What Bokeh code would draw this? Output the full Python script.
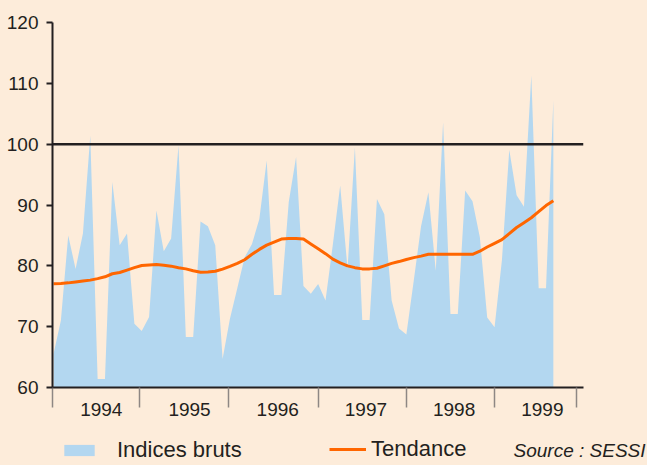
from bokeh.plotting import figure
from bokeh.layouts import column
from bokeh.models import (FixedTicker, Span, Legend, LegendItem, Label, Range1d,
                          ColumnDataSource)
from bokeh.embed import file_html
from bokeh.resources import INLINE
import numpy as np

# ---- data ----
annees = ["1994", "1995", "1996", "1997", "1998", "1999"]

indices_bruts = [
    65.5, 71.0, 85.0, 79.5, 85.3, 101.4, 61.4, 61.4, 93.8, 83.4, 85.3, 70.5,   # 1994
    69.3, 71.6, 89.1, 82.4, 84.5, 99.8, 68.3, 68.3, 87.3, 86.5, 83.4, 64.7,    # 1995
    71.3, 76.3, 81.4, 83.6, 87.7, 97.3, 75.2, 75.2, 90.5, 97.9, 76.7, 75.4,    # 1996
    77.0, 74.3, 83.5, 93.2, 79.5, 99.5, 71.1, 71.1, 91.0, 88.5, 74.3, 69.7,    # 1997
    68.7, 77.5, 86.5, 92.1, 79.2, 103.6, 72.1, 72.1, 92.4, 90.6, 84.7, 71.5,   # 1998
    69.9, 80.9, 99.1, 91.6, 89.7, 111.3, 76.3, 76.3, 107.2,                    # 1999
]

tendance = [
    77.06, 77.1, 77.2, 77.35, 77.5, 77.65, 77.9, 78.2, 78.7, 78.9, 79.3, 79.7,
    80.05, 80.15, 80.2, 80.1, 79.95, 79.7, 79.5, 79.2, 78.96, 79.0, 79.1, 79.45,
    79.9, 80.4, 81.0, 81.9, 82.7, 83.4, 83.9, 84.4, 84.5, 84.5, 84.4, 83.6,
    82.8, 82.0, 81.1, 80.5, 80.0, 79.7, 79.5, 79.5, 79.6, 80.0, 80.4, 80.7,
    81.05, 81.35, 81.6, 81.9, 81.9, 81.9, 81.9, 81.9, 81.9, 81.9, 82.4, 83.1,
    83.7, 84.3, 85.3, 86.3, 87.1, 87.9, 88.9, 89.9, 90.7,
]

y_ticks = [60, 70, 80, 90, 100, 110, 120]
niveau_reference = 100
source = "Source : SESSI"

# ---- style ----
BG = "#FDECDA"
INK = "#231F20"
BLUE = "#B3D7F0"
ORANGE = "#FF6600"
FONT = "Liberation Sans"

mois = np.arange(len(indices_bruts))
src = ColumnDataSource(dict(mois=mois, brut=indices_bruts, tend=tendance))
label_pos = [6.5 + 12 * k for k in range(len(annees))]
year_bounds = [-0.1, 11.75, 23.85, 36.0, 48.0, 60.0, 71.2]

W = 647
p = figure(width=W, height=422, output_backend="svg", toolbar_location=None,
           x_range=Range1d(-0.14, 72.1), y_range=Range1d(60, 120),
           min_border_left=52, min_border_right=64, min_border_top=22,
           min_border_bottom=35,
           background_fill_color=BG, border_fill_color=BG)
p.frame_align = False
p.outline_line_color = None
p.grid.visible = False

area = p.varea(x="mois", y1=60, y2="brut", source=src, fill_color=BLUE)
trend = p.line("mois", "tend", source=src, line_color=ORANGE, line_width=3)
p.add_layout(Span(location=niveau_reference, dimension="width",
                  line_color=INK, line_width=2.5))

xa = p.xaxis[0]
xa.ticker = FixedTicker(ticks=label_pos, minor_ticks=year_bounds)
xa.major_label_overrides = {pos: lab for pos, lab in zip(label_pos, annees)}
xa.major_tick_line_color = None
xa.major_tick_out = 0
xa.major_tick_in = 0
xa.minor_tick_out = 20
xa.minor_tick_in = 0
xa.minor_tick_line_color = "#8E8784"
xa.minor_tick_line_width = 1.5
xa.axis_line_color = INK
xa.axis_line_width = 2
xa.major_label_text_font = FONT
xa.major_label_text_font_size = "19px"
xa.major_label_text_color = INK
xa.major_label_standoff = -5

ya = p.yaxis[0]
ya.ticker = FixedTicker(ticks=y_ticks, minor_ticks=[])
ya.major_tick_out = 6
ya.major_tick_in = 0
ya.major_tick_line_color = INK
ya.major_tick_line_width = 2
ya.minor_tick_line_color = None
ya.axis_line_color = INK
ya.axis_line_width = 2
ya.major_label_text_font = FONT
ya.major_label_text_font_size = "19px"
ya.major_label_text_color = INK
ya.major_label_standoff = 8

# ---- legend row (its own ranges keep the series out of view) ----
q = figure(width=W, height=43, output_backend="svg", toolbar_location=None,
           x_range=Range1d(0, 1), y_range=Range1d(0, 1),
           x_axis_location=None, y_axis_location=None,
           min_border_left=0, min_border_right=0, min_border_top=0,
           min_border_bottom=0,
           background_fill_color=BG, border_fill_color=BG)
q.frame_align = False
q.outline_line_color = None
q.grid.visible = False
leg_area = q.varea(x="mois", y1=60, y2="brut", source=src, fill_color=BLUE)
leg_line = q.line("mois", "tend", source=src, line_color=ORANGE, line_width=3)

common = dict(orientation="horizontal", padding=0, margin=0, spacing=0,
              border_line_color=None, background_fill_alpha=0,
              label_text_font=FONT, label_text_font_size="22px",
              label_text_color=INK)
q.add_layout(Legend(items=[LegendItem(label="Indices bruts", renderers=[leg_area])],
                    location=(60, 2), glyph_width=38, glyph_height=14,
                    label_standoff=19, **common))
q.add_layout(Legend(items=[LegendItem(label="Tendance", renderers=[leg_line])],
                    location=(329, 3), glyph_width=37, glyph_height=14,
                    label_standoff=5, **common))
q.add_layout(Label(x=645, y=15.5, x_units="screen", y_units="screen",
                   text=source, text_align="right",
                   text_baseline="middle", text_font=FONT,
                   text_font_style="italic", text_font_size="19px",
                   text_color=INK))

layout = column(p, q, spacing=0, styles={"background-color": BG})
open("out.html", "w").write(file_html(layout, INLINE))
